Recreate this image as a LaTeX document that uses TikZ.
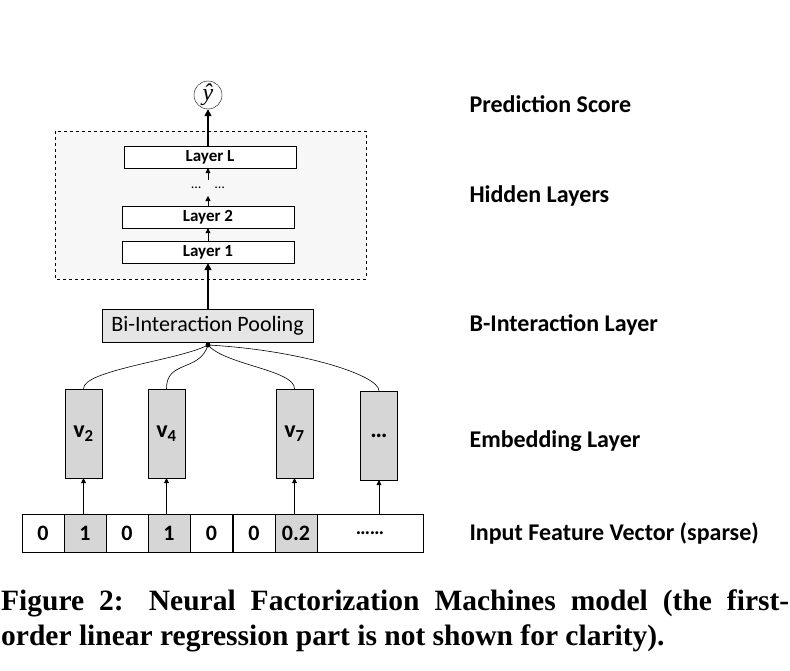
\documentclass[tikz,border=0pt]{standalone}
\usepackage{fontspec}
\setmainfont{Carlito}
\newfontfamily\capfont{Liberation Serif}
\usetikzlibrary{arrows.meta}
\begin{document}
\begin{tikzpicture}[x=1pt,y=-1pt,
  lbl/.style={anchor=west,font=\fontsize{24}{28}\selectfont\bfseries},
  layer/.style={draw,fill=white,minimum width=172pt,minimum height=22pt,inner sep=0pt,font=\fontsize{17}{19}\selectfont\bfseries},
  emb/.style={draw,fill=black!16,minimum width=37pt,minimum height=89pt,inner sep=0pt,font=\fontsize{24}{26}\selectfont\bfseries},
  cell/.style={draw,minimum width=42pt,minimum height=38pt,inner sep=0pt,font=\fontsize{22}{24}\selectfont\bfseries},
  thick arr/.style={-{Triangle[length=7pt,width=7pt]},line width=1.6pt},
  thin arr/.style={-{Triangle[length=5pt,width=5pt]},line width=0.5pt}]
\useasboundingbox (0,0) rectangle (790,670);
\draw[dashed,line width=1pt,fill=black!3] (55,131) rectangle (366,279);
\node[draw,circle,minimum size=28pt,inner sep=0pt,font=\capfont\fontsize{24}{26}\selectfont\itshape] (y) at (208,95) {\^{y}};
\node[layer] (LL) at (210,157) {Layer L};
\node[font=\fontsize{14}{16}\selectfont] (dots) at (208,188) {\dots\quad\dots};
\node[layer] (L2) at (208,217) {Layer 2};
\node[layer] (L1) at (208,252) {Layer 1};
\node[draw,fill=black!10,minimum width=211pt,minimum height=33pt,inner sep=0pt,font=\fontsize{22}{24}\selectfont] (bi) at (207.5,325.5) {Bi-Interaction Pooling};
\coordinate (j) at (208,345);
\fill (j) circle (2.5pt);
\node[emb] (v2) at (83.5,433.5) {v\textsubscript{2}};
\node[emb] (v4) at (166.5,433.5) {v\textsubscript{4}};
\node[emb] (v7) at (294.5,433.5) {v\textsubscript{7}};
\node[emb] (vd) at (379,435.5) {\dots};
\node[cell] (c1) at (43,533) {0};
\node[cell,fill=black!16] (c2) at (85,533) {1};
\node[cell] (c3) at (127,533) {0};
\node[cell,fill=black!16] (c4) at (169,533) {1};
\node[cell] (c5) at (211.5,533) {0};
\node[cell] (c6) at (254,533) {0};
\node[cell,fill=black!16] (c7) at (296,533) {0.2};
\node[draw,minimum width=106pt,minimum height=38pt,inner sep=0pt,font=\fontsize{20}{22}\selectfont\bfseries] (c8) at (370,533) {\dots\dots};
\draw[thick arr] (LL.north -| y) -- (y.south);
\draw[thick arr] (bi.north -| L1) -- (L1.south);
\draw[thin arr] (L1.north) -- (L2.south);
\draw[thin arr] (208,180) -- (LL.south -| 208,0);
\draw[thin arr] (L2.north) -- (208,196);
\draw[thin arr] (c2.north -| v2) -- (v2.south);
\draw[thin arr] (c4.north -| v4) -- (v4.south);
\draw[thin arr] (c7.north -| v7) -- (v7.south);
\draw[thin arr] (c8.north -| vd) -- (vd.south);
\draw[line width=0.6pt] (v2.north) .. controls (83,370) and (180,360) .. (j);
\draw[line width=0.6pt] (v4.north) .. controls (166,360) and (200,372) .. (j);
\draw[line width=0.6pt] (v7.north) .. controls (295,370) and (225,365) .. (j);
\draw[line width=0.6pt] (vd.north) .. controls (379,375) and (300,350) .. (j);
\node[lbl] (t1) at (466,104) {Prediction Score};
\node[lbl] (t2) at (466,196) {Hidden Layers};
\node[lbl] (t3) at (466,325) {B-Interaction Layer};
\node[lbl] (t4) at (466,441) {Embedding Layer};
\node[lbl] (t5) at (466,533) {Input Feature Vector (sparse)};
\node[anchor=north west,inner sep=0pt,text width=788pt,align=justify,font=\capfont\fontsize{29.5}{35}\selectfont\bfseries] (cap) at (1,590) {Figure 2: Neural Factorization Machines model (the first-\linebreak order linear regression part is not shown for clarity).};
\end{tikzpicture}
\end{document}
